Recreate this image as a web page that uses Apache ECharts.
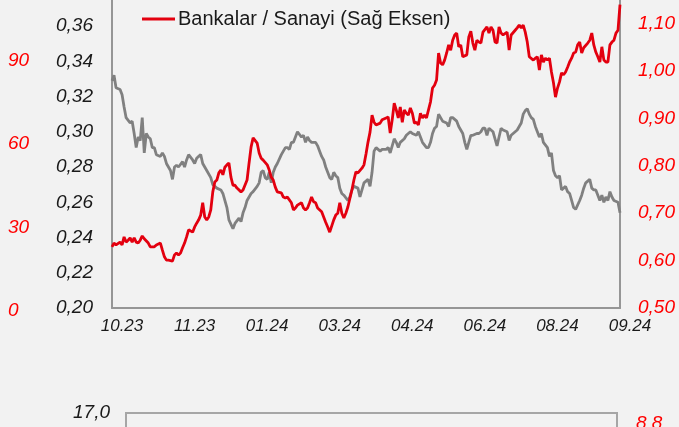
<!DOCTYPE html>
<html>
<head>
<meta charset="utf-8">
<script src="https://cdn.jsdelivr.net/npm/echarts@6/dist/echarts.min.js"></script>
<style>
  html, body { margin: 0; padding: 0; background: #f2f2f2; }
  #chart { width: 679px; height: 427px; }
</style>
</head>
<body>
<div id="chart"></div>
<script>
// x ekseni etiketleri (her 36 iş günü)
var dateLabels = ['10.23', '11.23', '01.24', '03.24', '04.24', '06.24', '08.24', '09.24'];

// gri seri (sol eksen) [gün, değer]
var sanayiData = [
  [0,0.329],[1,0.332],[2,0.325],[4,0.324],[5,0.321],[6,0.314],[7,0.308],[9,0.305],[10,0.306],[11,0.299],
  [12,0.291],[13,0.297],[14,0.295],[15,0.308],[16,0.288],[17,0.299],[18,0.297],[19,0.296],[20,0.291],[21,0.291],
  [22,0.287],[24,0.286],[25,0.288],[26,0.286],[27,0.282],[29,0.278],[30,0.273],[31,0.280],[32,0.281],[33,0.280],
  [35,0.283],[36,0.280],[37,0.284],[38,0.287],[40,0.284],[41,0.282],[42,0.285],[43,0.286],[44,0.287],[45,0.282],
  [47,0.278],[49,0.274],[50,0.270],[52,0.268],[54,0.267],[55,0.265],[57,0.257],[58,0.250],[60,0.245],[61,0.248],
  [63,0.251],[64,0.249],[65,0.254],[66,0.257],[67,0.261],[69,0.265],[70,0.266],[72,0.269],[73,0.271],[74,0.277],
  [75,0.278],[76,0.274],[77,0.273],[78,0.277],[79,0.271],[80,0.277],[81,0.280],[82,0.282],[84,0.287],[85,0.289],
  [86,0.291],[87,0.291],[88,0.290],[89,0.294],[90,0.294],[91,0.297],[92,0.300],[94,0.297],[95,0.298],[96,0.294],
  [97,0.297],[98,0.295],[99,0.294],[101,0.294],[102,0.292],[103,0.289],[104,0.286],[105,0.284],[106,0.280],[108,0.274],
  [109,0.273],[110,0.277],[111,0.275],[112,0.274],[113,0.268],[114,0.265],[115,0.264],[117,0.261],[118,0.263],[119,0.267],
  [120,0.269],[122,0.268],[123,0.263],[124,0.267],[125,0.271],[127,0.273],[128,0.269],[129,0.277],[130,0.289],[131,0.291],
  [133,0.289],[134,0.290],[136,0.290],[137,0.291],[138,0.288],[140,0.296],[141,0.294],[142,0.291],[143,0.294],[145,0.296],
  [146,0.298],[147,0.299],[148,0.300],[149,0.299],[151,0.298],[152,0.300],[153,0.297],[154,0.294],[156,0.291],[157,0.291],
  [158,0.294],[159,0.299],[160,0.302],[161,0.303],[162,0.310],[163,0.308],[164,0.306],[166,0.305],[167,0.303],[168,0.308],
  [169,0.308],[171,0.306],[172,0.303],[174,0.299],[175,0.294],[176,0.290],[177,0.294],[178,0.298],[179,0.298],[181,0.299],
  [182,0.299],[183,0.300],[184,0.302],[185,0.302],[186,0.298],[187,0.302],[189,0.300],[190,0.296],[191,0.292],[192,0.297],
  [193,0.302],[194,0.301],[196,0.300],[197,0.295],[198,0.298],[199,0.299],[201,0.301],[202,0.303],[203,0.305],[204,0.310],
  [205,0.312],[206,0.313],[207,0.310],[208,0.308],[209,0.307],[210,0.303],[211,0.300],[212,0.297],[213,0.299],[214,0.294],
  [216,0.291],[217,0.286],[218,0.288],[219,0.278],[220,0.275],[221,0.274],[222,0.275],[223,0.267],[225,0.269],[226,0.266],
  [227,0.265],[228,0.261],[229,0.257],[230,0.256],[232,0.261],[233,0.264],[234,0.268],[235,0.271],[237,0.273],[238,0.268],
  [239,0.267],[240,0.267],[242,0.261],[243,0.264],[244,0.260],[245,0.263],[246,0.261],[247,0.266],[248,0.263],[249,0.261],
  [251,0.260],[252,0.254]
];

// kırmızı seri (sağ eksen) [gün, değer]
var bankaSanayiData = [
  [0,0.629],[1,0.637],[2,0.633],[4,0.639],[5,0.633],[6,0.650],[7,0.639],[8,0.643],[9,0.648],[10,0.639],
  [11,0.648],[12,0.639],[13,0.637],[14,0.643],[15,0.652],[16,0.646],[18,0.637],[19,0.629],[20,0.629],[21,0.629],
  [22,0.633],[24,0.637],[25,0.622],[26,0.608],[27,0.601],[28,0.601],[30,0.599],[31,0.612],[32,0.616],[33,0.612],
  [34,0.616],[35,0.627],[36,0.637],[37,0.650],[38,0.665],[40,0.660],[41,0.671],[42,0.679],[43,0.686],[44,0.696],
  [45,0.722],[46,0.692],[47,0.686],[48,0.692],[49,0.707],[50,0.745],[51,0.766],[52,0.770],[53,0.785],[54,0.791],
  [55,0.781],[56,0.797],[57,0.802],[58,0.806],[59,0.776],[60,0.759],[61,0.759],[62,0.753],[64,0.745],[65,0.749],
  [67,0.770],[68,0.806],[69,0.840],[70,0.859],[72,0.848],[73,0.827],[74,0.816],[75,0.812],[77,0.802],[78,0.791],
  [79,0.776],[80,0.770],[81,0.755],[82,0.745],[84,0.743],[85,0.734],[86,0.732],[87,0.734],[89,0.722],[90,0.707],
  [91,0.711],[92,0.717],[94,0.722],[95,0.711],[96,0.707],[97,0.711],[98,0.722],[99,0.734],[100,0.724],[101,0.722],
  [102,0.711],[104,0.703],[105,0.692],[106,0.681],[107,0.671],[108,0.660],[110,0.686],[111,0.696],[112,0.700],[113,0.722],
  [114,0.700],[115,0.690],[116,0.700],[117,0.713],[119,0.749],[120,0.770],[121,0.787],[122,0.785],[124,0.795],[125,0.802],
  [126,0.825],[127,0.850],[128,0.871],[129,0.907],[130,0.892],[131,0.886],[133,0.890],[134,0.897],[136,0.901],[137,0.903],
  [138,0.869],[139,0.897],[140,0.932],[141,0.918],[142,0.901],[143,0.924],[144,0.892],[145,0.918],[146,0.911],[147,0.907],
  [148,0.922],[149,0.911],[150,0.890],[151,0.892],[152,0.886],[153,0.911],[154,0.901],[155,0.907],[156,0.901],[157,0.918],
  [158,0.935],[159,0.964],[160,0.970],[161,0.981],[162,1.038],[163,1.017],[164,1.013],[165,1.023],[166,1.038],[167,1.055],
  [168,1.044],[169,1.065],[170,1.076],[171,1.080],[172,1.051],[173,1.055],[174,1.030],[176,1.034],[177,1.072],[178,1.084],
  [179,1.059],[180,1.044],[181,1.065],[182,1.061],[183,1.059],[184,1.082],[186,1.093],[187,1.080],[188,1.093],[189,1.086],
  [190,1.061],[191,1.059],[192,1.093],[193,1.080],[194,1.076],[196,1.082],[197,1.044],[198,1.076],[200,1.086],[201,1.091],
  [202,1.097],[203,1.091],[204,1.097],[205,1.082],[206,1.061],[207,1.030],[209,1.023],[210,1.027],[211,1.030],[212,1.002],
  [213,1.034],[214,1.019],[215,1.027],[216,1.023],[217,1.027],[218,0.998],[219,0.975],[220,0.945],[221,0.964],[222,0.977],
  [223,0.996],[224,0.992],[225,0.998],[226,1.008],[227,1.019],[228,1.027],[229,1.038],[230,1.040],[231,1.055],[232,1.061],
  [233,1.038],[234,1.049],[236,1.059],[237,1.065],[238,1.080],[239,1.055],[240,1.040],[241,1.030],[242,1.019],[243,1.051],
  [244,1.023],[245,1.019],[246,1.019],[247,1.055],[248,1.061],[249,1.065],[250,1.080],[251,1.086],[252,1.140]
];

var FONT = "'Liberation Sans', Arial, sans-serif";
var RED = '#ff0000';

function comma(v, d) {
  return v.toFixed(d).replace('.', ',');
}

var chart = echarts.init(document.getElementById('chart'));

var option = {
  backgroundColor: '#f2f2f2',
  animation: false,
  textStyle: { fontFamily: FONT },
  legend: {
    left: 142,
    top: 9,
    padding: 0,
    icon: 'rect',
    itemWidth: 33,
    itemHeight: 3,
    itemGap: 10,
    textStyle: { fontSize: 20, color: '#1a1a1a', fontFamily: FONT, padding: [0, 0, 0, -2] },
    data: ['Bankalar / Sanayi (Sağ Eksen)']
  },
  grid: [
    // üst grafik
    { left: 112, right: 59, top: 0, height: 308, show: false, outerBoundsMode: 'none' },
    // alt grafik (sadece üst kısmı görünür)
    { left: 126, right: 62, top: 413, height: 150, show: true, outerBoundsMode: 'none',
      borderColor: '#a6a6a6', borderWidth: 2, backgroundColor: 'transparent' },
    // en soldaki kırmızı eksen
    { left: 112, right: 59, top: 0, height: 310.5, show: false, outerBoundsMode: 'none' }
  ],
  xAxis: [
    {
      gridIndex: 0, type: 'value', min: 0, max: 252, interval: 36,
      axisLine: { show: true, lineStyle: { color: '#969696', width: 2 } },
      axisTick: { show: false },
      splitLine: { show: false },
      axisLabel: {
        fontSize: 17, fontStyle: 'italic', color: '#1a1a1a', margin: 10,
        padding: [0, 0, 0, 20],
        formatter: function (v) { return dateLabels[Math.round(v / 36)]; }
      }
    },
    { gridIndex: 1, type: 'value', show: false },
    { gridIndex: 2, type: 'value', show: false }
  ],
  yAxis: [
    {
      gridIndex: 0, type: 'value', position: 'left',
      min: 0.2, max: 0.2 + 308 / 1762.5, interval: 0.02,
      axisLine: { show: true, lineStyle: { color: '#969696', width: 2 } },
      axisTick: { show: false },
      splitLine: { show: false },
      axisLabel: {
        fontSize: 19, fontStyle: 'italic', color: '#1a1a1a', margin: 19,
        showMaxLabel: false,
        formatter: function (v) { return comma(v, 2); }
      }
    },
    {
      gridIndex: 0, type: 'value', position: 'right',
      min: 0.5, max: 0.5 + 308 / 474, interval: 0.1,
      axisLine: { show: true, lineStyle: { color: '#969696', width: 2 } },
      axisTick: { show: false },
      splitLine: { show: false },
      axisLabel: {
        fontSize: 19, fontStyle: 'italic', color: RED, margin: 18,
        showMaxLabel: false,
        formatter: function (v) { return comma(v, 2); }
      }
    },
    {
      gridIndex: 1, type: 'value', position: 'left',
      min: 15, max: 17, interval: 0.5,
      axisLine: { show: false }, axisTick: { show: false }, splitLine: { show: false },
      axisLabel: {
        fontSize: 19, fontStyle: 'italic', color: '#1a1a1a', margin: 16,
        formatter: function (v) { return comma(v, 1); }
      }
    },
    {
      gridIndex: 1, type: 'value', position: 'right',
      min: 8.0, max: 8.86, interval: 0.2,
      axisLine: { show: false }, axisTick: { show: false }, splitLine: { show: false },
      axisLabel: {
        fontSize: 19, fontStyle: 'italic', color: RED, margin: 19,
        showMaxLabel: false,
        formatter: function (v) { return comma(v, 1); }
      }
    },
    {
      gridIndex: 2, type: 'value', position: 'left',
      min: 0, max: 112, interval: 30,
      axisLine: { show: false }, axisTick: { show: false }, splitLine: { show: false },
      axisLabel: {
        fontSize: 19, fontStyle: 'italic', color: RED, margin: 104, align: 'left',
        showMaxLabel: false
      }
    }
  ],
  series: [
    {
      name: 'Sanayi',
      type: 'line',
      xAxisIndex: 0, yAxisIndex: 0,
      data: sanayiData,
      symbol: 'none',
      lineStyle: { color: '#808080', width: 2.8 },
      itemStyle: { color: '#808080' }
    },
    {
      name: 'Bankalar / Sanayi (Sağ Eksen)',
      type: 'line',
      xAxisIndex: 0, yAxisIndex: 1,
      data: bankaSanayiData,
      symbol: 'none',
      lineStyle: { color: '#e3000f', width: 2.8 },
      itemStyle: { color: '#e3000f' }
    }
  ]
};

chart.setOption(option);
</script>
</body>
</html>
